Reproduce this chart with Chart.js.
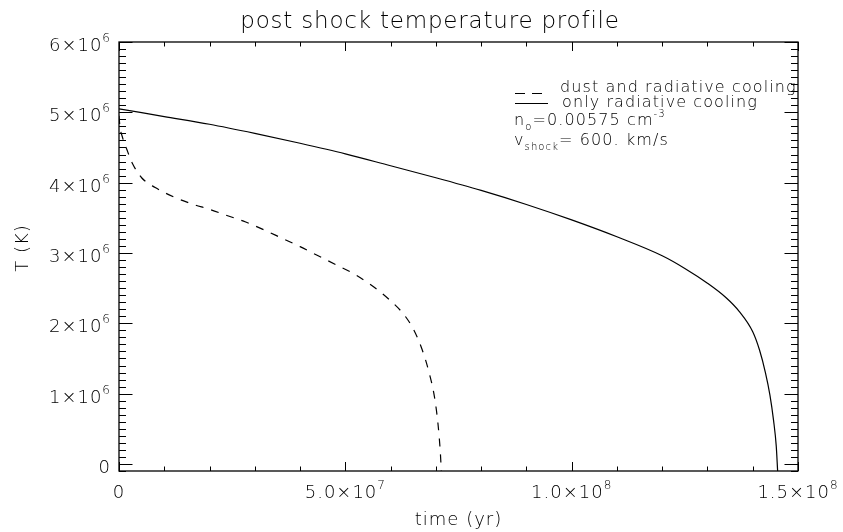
<!DOCTYPE html>
<html>
<head>
<meta charset="utf-8">
<script src="https://cdn.jsdelivr.net/npm/chart.js@4/dist/chart.umd.min.js"></script>
<style>
  html, body { margin: 0; padding: 0; background: #fff; }
  #wrap { width: 843px; height: 532px; }
</style>
</head>
<body>
<div id="wrap"><canvas id="chart" width="843" height="532"></canvas></div>
<script>
// only radiative cooling (solid)
const radTime = [0, 1.0e7, 2.0e7, 3.0e7, 4.0e7, 5.0e7, 6.0e7, 7.0e7, 8.0e7, 9.0e7, 1.0e8, 1.1e8,
  1.2e8, 1.25e8, 1.3e8, 1.34e8, 1.37e8, 1.4e8, 1.415e8, 1.428e8, 1.438e8, 1.446e8, 1.452e8, 1.455e8];
const radTemp = [5.05e6, 4.94e6, 4.83e6, 4.70e6, 4.56e6, 4.41e6, 4.24e6, 4.07e6, 3.89e6, 3.69e6, 3.47e6, 3.23e6,
  2.96e6, 2.78e6, 2.57e6, 2.37e6, 2.17e6, 1.88e6, 1.62e6, 1.30e6, 0.98e6, 0.62e6, 0.25e6, -0.1e6];

// dust and radiative cooling (dashed)
const dustTime = [0, 2e5, 7e5, 1.8e6, 3.0e6, 5.0e6, 8.0e6, 1.2e7, 1.6e7, 2.0e7, 2.4e7, 2.8e7, 3.2e7, 3.6e7,
  4.0e7, 4.4e7, 4.8e7, 5.2e7, 5.6e7, 6.0e7, 6.3e7, 6.5e7, 6.7e7, 6.85e7, 6.97e7, 7.05e7, 7.1e7, 7.12e7];
const dustTemp = [4.95e6, 4.80e6, 4.66e6, 4.46e6, 4.27e6, 4.07e6, 3.93e6, 3.80e6, 3.70e6, 3.62e6, 3.53e6, 3.44e6, 3.33e6, 3.21e6,
  3.09e6, 2.96e6, 2.83e6, 2.70e6, 2.53e6, 2.32e6, 2.12e6, 1.92e6, 1.62e6, 1.30e6, 0.95e6, 0.55e6, 0.15e6, -0.1e6];

const xTicks = [0, 5e7, 1e8, 1.5e8];
const xTickLabels = ['0', '5.0×10^{7}', '1.0×10^{8}', '1.5×10^{8}'];
const yTicks = [0, 1e6, 2e6, 3e6, 4e6, 5e6, 6e6];
const yTickLabels = ['0', '1×10^{6}', '2×10^{6}', '3×10^{6}', '4×10^{6}', '5×10^{6}', '6×10^{6}'];

const legendLines = ['dust and radiative cooling', 'only radiative cooling'];
const infoLines = ['n_{o}=0.00575 cm^{-3}', 'v_{shock}= 600. km/s'];

const FACE = '"DejaVu Sans"';
const INK = '#000';

function font(size) { return '200 ' + size + 'px ' + FACE; }

// draws text with ^{..} superscripts and _{..} subscripts
function rich(ctx, str, x, y, size, align) {
  const parts = [];
  const re = /([_^])\{([^}]*)\}/g;
  let last = 0, m;
  while ((m = re.exec(str))) {
    if (m.index > last) parts.push({ t: str.slice(last, m.index), s: 0 });
    parts.push({ t: m[2], s: m[1] === '^' ? 1 : -1 });
    last = re.lastIndex;
  }
  if (last < str.length) parts.push({ t: str.slice(last), s: 0 });
  const small = Math.round(size * 0.64);
  let w = 0;
  parts.forEach(p => {
    ctx.font = font(p.s ? small : size);
    p.w = ctx.measureText(p.t).width;
    w += p.w;
  });
  let cx = align === 'center' ? x - w / 2 : align === 'right' ? x - w : x;
  ctx.textAlign = 'left';
  ctx.textBaseline = 'alphabetic';
  parts.forEach(p => {
    ctx.font = font(p.s ? small : size);
    const dy = p.s === 1 ? -size * 0.5 : p.s === -1 ? size * 0.3 : 0;
    ctx.fillText(p.t, cx, y + dy);
    cx += p.w;
  });
}

const frame = {
  id: 'frame',
  afterDatasetsDraw(chart) {
    const { ctx, chartArea: a, scales: { x, y } } = chart;
    ctx.save();
    ctx.strokeStyle = '#000';
    ctx.fillStyle = INK;
    ctx.lineWidth = 1.3;
    ctx.strokeRect(a.left, a.top, a.right - a.left, a.bottom - a.top);

    // inward ticks on all four sides
    ctx.lineWidth = 1;
    ctx.beginPath();
    for (let i = 0; i <= 15; i++) {
      const px = Math.round(x.getPixelForValue(i * 1e7)) + 0.5;
      const len = i % 5 === 0 ? 9 : 4.5;
      ctx.moveTo(px, a.bottom); ctx.lineTo(px, a.bottom - len);
      ctx.moveTo(px, a.top); ctx.lineTo(px, a.top + len);
    }
    for (let i = -1; i <= 60; i++) {
      const py = Math.round(y.getPixelForValue(i * 1e5)) + 0.5;
      const len = i % 10 === 0 ? 13.5 : 7;
      ctx.moveTo(a.left, py); ctx.lineTo(a.left + len, py);
      ctx.moveTo(a.right, py); ctx.lineTo(a.right - len, py);
    }
    ctx.stroke();

    ctx.letterSpacing = '1px';
    xTicks.forEach((v, i) => rich(ctx, xTickLabels[i], x.getPixelForValue(v), 498, 18, 'center'));
    yTicks.forEach((v, i) => rich(ctx, yTickLabels[i], a.left - 8, y.getPixelForValue(v) + 9, 18, 'right'));

    // titles
    rich(ctx, 'time (yr)', (a.left + a.right) / 2, 525, 18, 'center');
    ctx.letterSpacing = '0.8px';
    rich(ctx, 'post shock temperature profile', 430, 28, 23, 'center');
    ctx.letterSpacing = '1px';
    ctx.save();
    ctx.translate(28, 248);
    ctx.rotate(-Math.PI / 2);
    rich(ctx, 'T (K)', 0, 0, 18, 'center');
    ctx.restore();

    // legend
    ctx.letterSpacing = '1.1px';
    ctx.strokeStyle = '#000';
    ctx.lineWidth = 1;
    ctx.setLineDash([10, 7]);
    ctx.beginPath(); ctx.moveTo(515, 93.5); ctx.lineTo(545, 93.5); ctx.stroke();
    ctx.setLineDash([]);
    ctx.beginPath(); ctx.moveTo(515, 103.5); ctx.lineTo(548, 103.5); ctx.stroke();
    rich(ctx, legendLines[0], 560, 92, 16, 'left');
    rich(ctx, legendLines[1], 562, 107, 16, 'left');
    rich(ctx, infoLines[0], 514, 125, 16, 'left');
    rich(ctx, infoLines[1], 514, 145, 16, 'left');
    ctx.restore();
  }
};

new Chart(document.getElementById('chart'), {
  type: 'line',
  data: {
    datasets: [
      {
        label: 'dust and radiative cooling',
        data: dustTime.map((t, i) => ({ x: t, y: dustTemp[i] })),
        borderColor: '#000',
        borderWidth: 1.2,
        borderDash: [8, 8],
        pointRadius: 0,
        cubicInterpolationMode: 'monotone'
      },
      {
        label: 'only radiative cooling',
        data: radTime.map((t, i) => ({ x: t, y: radTemp[i] })),
        borderColor: '#000',
        borderWidth: 1.2,
        pointRadius: 0,
        cubicInterpolationMode: 'monotone'
      }
    ]
  },
  options: {
    responsive: false,
    animation: false,
    layout: { padding: { left: 119, right: 45, top: 42, bottom: 61 } },
    scales: {
      x: { type: 'linear', min: 0, max: 1.5e8, display: false },
      y: { type: 'linear', min: -1e5, max: 6e6, display: false }
    },
    plugins: {
      legend: { display: false },
      tooltip: { enabled: false },
      title: { display: false }
    }
  },
  plugins: [frame]
});
</script>
</body>
</html>
